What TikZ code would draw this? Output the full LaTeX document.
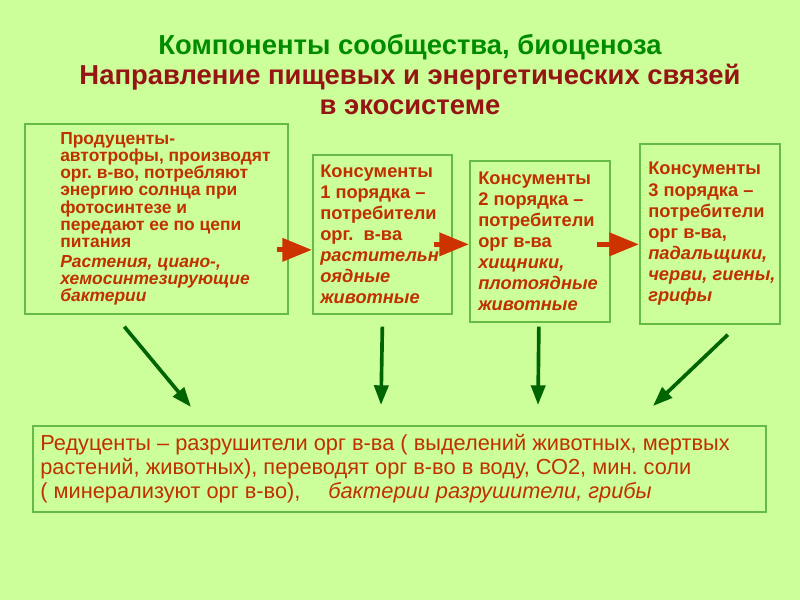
\documentclass[tikz,border=0pt]{standalone}
\usepackage{fontspec}
\setmainfont{Liberation Sans}
\usetikzlibrary{positioning,arrows.meta,calc}
\frenchspacing
\definecolor{bggreen}{RGB}{204,255,153}
\definecolor{boxline}{RGB}{102,187,68}
\definecolor{titlegreen}{RGB}{0,140,0}
\definecolor{titlered}{RGB}{150,20,20}
\definecolor{txtred}{RGB}{192,48,0}
\definecolor{arrred}{RGB}{204,51,0}
\definecolor{arrgreen}{RGB}{0,100,0}
\newcommand{\pxu}{0.025cm}
\tikzset{
  redflow/.style={-{Triangle[length=21pt,width=16pt]}, line width=3.5pt, draw=arrred},
  downflow/.style={-{Triangle[length=14pt,width=10pt]}, line width=2.6pt, draw=arrgreen}
}

\begin{document}
\begin{tikzpicture}[x=0.025cm, y=-0.025cm,
  box/.style={draw=boxline, line width=1.2pt, anchor=north west, inner sep=0pt},
  boxtext/.style={font=\bfseries\fontsize{13}{15}\selectfont, text=txtred, align=left, inner sep=0pt, anchor=west},
  prodtext/.style={boxtext, font=\bfseries\fontsize{12.4}{12.2}\selectfont}
]
\fill[bggreen] (0,0) rectangle (800,600);

% title
\node[font=\bfseries\fontsize{19.5}{21.3}\selectfont, align=center] (title) at (410,75)
  {\textcolor{titlegreen}{Компоненты сообщества, биоценоза}\\
   \textcolor{titlered}{Направление пищевых и энергетических связей}\\
   \textcolor{titlered}{в экосистеме}};

% boxes
\node[box, minimum width=263*\pxu, minimum height=190*\pxu] (prod) at (24,123) {};
\node[box, minimum width=139*\pxu, minimum height=159*\pxu] (cons1) at (312,154) {};
\node[box, minimum width=140*\pxu, minimum height=161*\pxu] (cons2) at (469,160) {};
\node[box, minimum width=140*\pxu, minimum height=180*\pxu] (cons3) at (639,143) {};
\node[box, minimum width=733*\pxu, minimum height=86*\pxu] (red) at (32,425) {};

\node[prodtext] (prodtxt) at ([xshift=36*\pxu]prod.west)
  {Продуценты-\\автотрофы, производят\\орг. в-во, потребляют\\энергию солнца при\\
   фотосинтезе и\\передают ее по цепи\\питания\\[2pt]
   \textit{Растения, циано-,}\\\textit{хемосинтезирующие}\\\textit{бактерии}};
\node[boxtext] (cons1txt) at ([xshift=8*\pxu]cons1.west)
  {Консументы\\1 порядка –\\потребители\\орг.~ в-ва\\
   \textit{растительн}\\\textit{оядные}\\\textit{животные}};
\node[boxtext] (cons2txt) at ([xshift=9*\pxu]cons2.west)
  {Консументы\\2 порядка –\\потребители\\орг в-ва\\
   \textit{хищники,}\\\textit{плотоядные}\\\textit{животные}};
\node[boxtext] (cons3txt) at ([xshift=9*\pxu]cons3.west)
  {Консументы\\3 порядка –\\потребители\\орг в-ва,\\
   \textit{падальщики,}\\\textit{черви, гиены,}\\\textit{грифы}};
\node[boxtext, font=\fontsize{15.5}{17}\selectfont] (redtxt) at ([xshift=8*\pxu]red.west)
  {Редуценты – разрушители орг в-ва ( выделений животных, мертвых\\
   растений, животных), переводят орг в-во в воду, СО2, мин. соли\\
   ( минерализуют орг в-во), \quad \textit{бактерии разрушители, грибы}};

% food chain
\coordinate (a1) at ($(prod.east)+(-12,31)$);
\coordinate (a2) at ($(cons1.east)+(-19,10)$);
\coordinate (a3) at ($(cons2.east)+(-14,3)$);
\draw[redflow] (a1) -- (a1 -| cons1.west);
\draw[redflow] (a2) -- (a2 -| cons2.west);
\draw[redflow] (a3) -- (a3 -| cons3.west);

% to decomposers
\coordinate (e1) at (191,407);
\coordinate (e2) at (381,405);
\coordinate (e3) at (538,405);
\coordinate (e4) at (653,406);
\draw[downflow] ([shift={(-32,12)}]prod.south) -- (e1);
\draw[downflow] ([shift={(0,12)}]cons1.south) -- (e2);
\draw[downflow] ([shift={(-1,4)}]cons2.south) -- (e3);
\draw[downflow] ([shift={(18,10)}]cons3.south) -- (e4);
\end{tikzpicture}
\end{document}
